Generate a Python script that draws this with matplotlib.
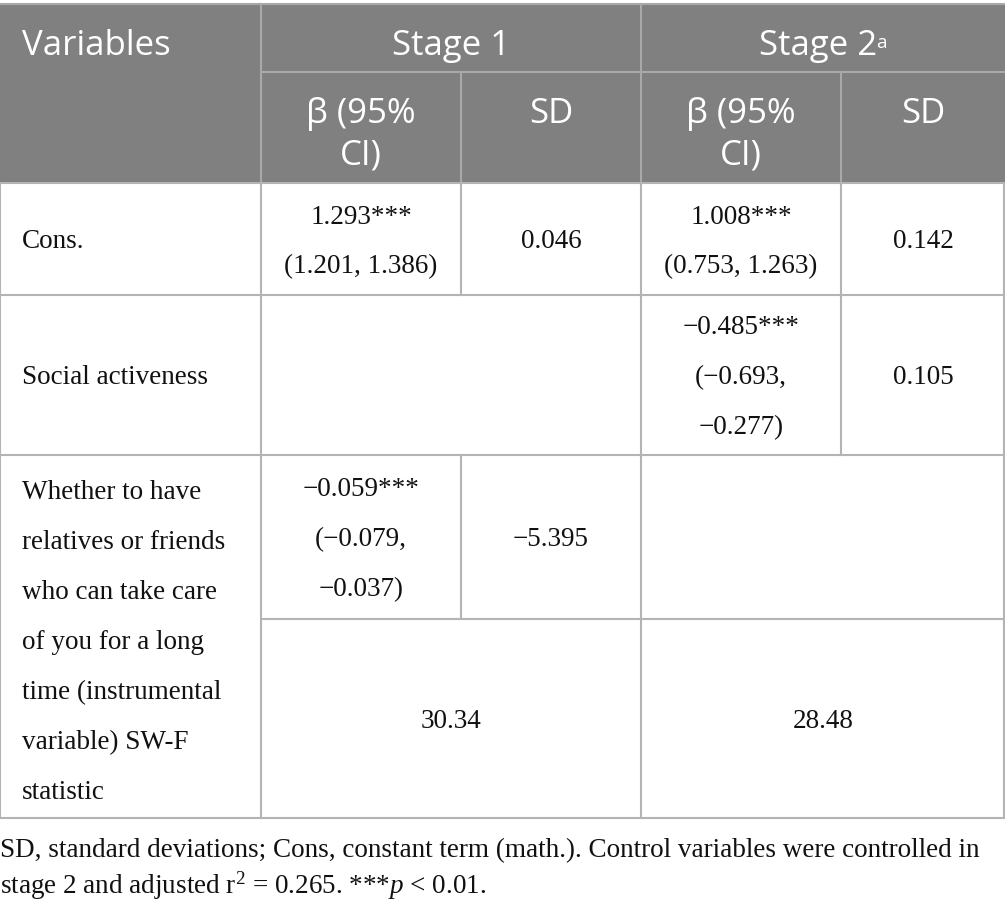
import matplotlib.pyplot as plt
import matplotlib.patches as patches

plt.rcParams['mathtext.fontset'] = 'custom'
plt.rcParams['mathtext.rm'] = 'Liberation Serif'
plt.rcParams['mathtext.it'] = 'Liberation Serif:italic'

# table content
header_top = ['Variables', 'Stage 1', 'Stage 2']
header_sub = [['β (95%', 'CI)'], ['SD'], ['β (95%', 'CI)'], ['SD']]
row_labels = [
    ['Cons.'],
    ['Social activeness'],
    ['Whether to have', 'relatives or friends', 'who can take care',
     'of you for a long', 'time (instrumental', 'variable) SW-F', 'statistic'],
]
cons_vals = [['1.293***', '(1.201, 1.386)'], ['0.046'],
             ['1.008***', '(0.753, 1.263)'], ['0.142']]
social_vals = [['−0.485***', '(−0.693,', '−0.277)'], ['0.105']]
iv_vals = [['−0.059***', '(−0.079,', '−0.037)'], ['−5.395']]
swf_vals = ['30.34', '28.48']
footnote = ['SD, standard deviations; Cons, constant term (math.). Control variables were controlled in',
            'stage 2 and adjusted r$^2$ = 0.265. ***$p$ < 0.01.']

# layout (pixels)
cols = [0, 261, 461, 641, 841, 1005]
y_top, y_h1, y_h2 = 4, 72, 183
y_r1, y_r2, y_r3a, y_r3 = 295, 455, 619, 818

head_bg = '#808080'
head_line = '#a9a9a9'
body_line = '#b4b4b4'
sans = ['Open Sans', 'DejaVu Sans']
serif = ['Liberation Serif', 'DejaVu Serif']
hsize = 25
bsize = 19.5
line_step = 50

fig = plt.figure(figsize=(10.05, 9.1), dpi=100)
ax = fig.add_axes([0, 0, 1, 1])
ax.set_xlim(0, 1005)
ax.set_ylim(910, 0)
ax.axis('off')


def cell_lines(x, yc, lines, ha='center', step=line_step, **kw):
    n = len(lines)
    for i, s in enumerate(lines):
        ax.text(x, yc + (i - (n - 1) / 2) * step, s, ha=ha,
                va='center_baseline', **kw)


def mid(a, b):
    return (a + b) / 2


# header
ax.add_patch(patches.Rectangle((0, y_top), 1005, y_h2 - y_top,
                               facecolor=head_bg, edgecolor='none'))
hkw = dict(family=sans, fontsize=hsize, color='white')
ax.text(22, 42, header_top[0], ha='left', va='center_baseline', **hkw)
ax.text(mid(cols[1], cols[3]), 42, header_top[1], ha='center',
        va='center_baseline', **hkw)
st2 = ax.text(mid(cols[3], cols[5]) - 5, 42, header_top[2], ha='center',
              va='center_baseline', **hkw)
ax.annotate('a', xy=(1, 0.85), xycoords=st2, xytext=(-1, 0),
            textcoords='offset points', ha='left', va='top',
            family=sans, fontsize=hsize * 0.55, color='white')
for i, lines in enumerate(header_sub):
    x = mid(cols[i + 1], cols[i + 2])
    for j, s in enumerate(lines):
        ax.text(x, 110 + j * 42, s, ha='center', va='center_baseline', **hkw)

ax.plot([0, 1005], [y_top, y_top], color=head_line, lw=1.5)
ax.plot([cols[1], 1005], [y_h1, y_h1], color=head_line, lw=1.5)
ax.plot([cols[1], cols[1]], [y_top, y_h2], color=head_line, lw=1.5)
ax.plot([cols[3], cols[3]], [y_top, y_h2], color=head_line, lw=1.5)
ax.plot([cols[2], cols[2]], [y_h1, y_h2], color=head_line, lw=1.5)
ax.plot([cols[4], cols[4]], [y_h1, y_h2], color=head_line, lw=1.5)

# body text
bkw = dict(family=serif, fontsize=bsize, color='#111111')
cell_lines(22, mid(y_h2, y_r1), row_labels[0], ha='left', **bkw)
cell_lines(22, mid(y_r1, y_r2), row_labels[1], ha='left', **bkw)
cell_lines(22, mid(y_r2, y_r3) + 3, row_labels[2], ha='left', **bkw)

for i, lines in enumerate(cons_vals):
    cell_lines(mid(cols[i + 1], cols[i + 2]), mid(y_h2, y_r1), lines, **bkw)
for i, lines in enumerate(social_vals):
    cell_lines(mid(cols[i + 3], cols[i + 4]), mid(y_r1, y_r2), lines, **bkw)
for i, lines in enumerate(iv_vals):
    cell_lines(mid(cols[i + 1], cols[i + 2]), mid(y_r2, y_r3a), lines, **bkw)
cell_lines(mid(cols[1], cols[3]), mid(y_r3a, y_r3), [swf_vals[0]], **bkw)
cell_lines(mid(cols[3], cols[5]), mid(y_r3a, y_r3), [swf_vals[1]], **bkw)

# body grid
hlines = [(y_h2, 0, 1005), (y_r1, 0, 1005), (y_r2, 0, 1005),
          (y_r3a, cols[1], 1005), (y_r3, 0, 1005)]
for y, x0, x1 in hlines:
    ax.plot([x0, x1], [y, y], color=body_line, lw=1.5)
vlines = [(0, y_h2, y_r3), (cols[1], y_h2, y_r3), (cols[3], y_h2, y_r3),
          (1004, y_h2, y_r3), (cols[2], y_h2, y_r1), (cols[2], y_r2, y_r3a),
          (cols[4], y_h2, y_r2)]
for x, y0, y1 in vlines:
    ax.plot([x, x], [y0, y1], color=body_line, lw=1.5)

# footnote
ax.text(0, 848, footnote[0], ha='left', va='center_baseline', **bkw)
ax.text(0, 882, footnote[1], ha='left', va='center_baseline', **bkw)

fig.savefig('out.png', dpi=100)
